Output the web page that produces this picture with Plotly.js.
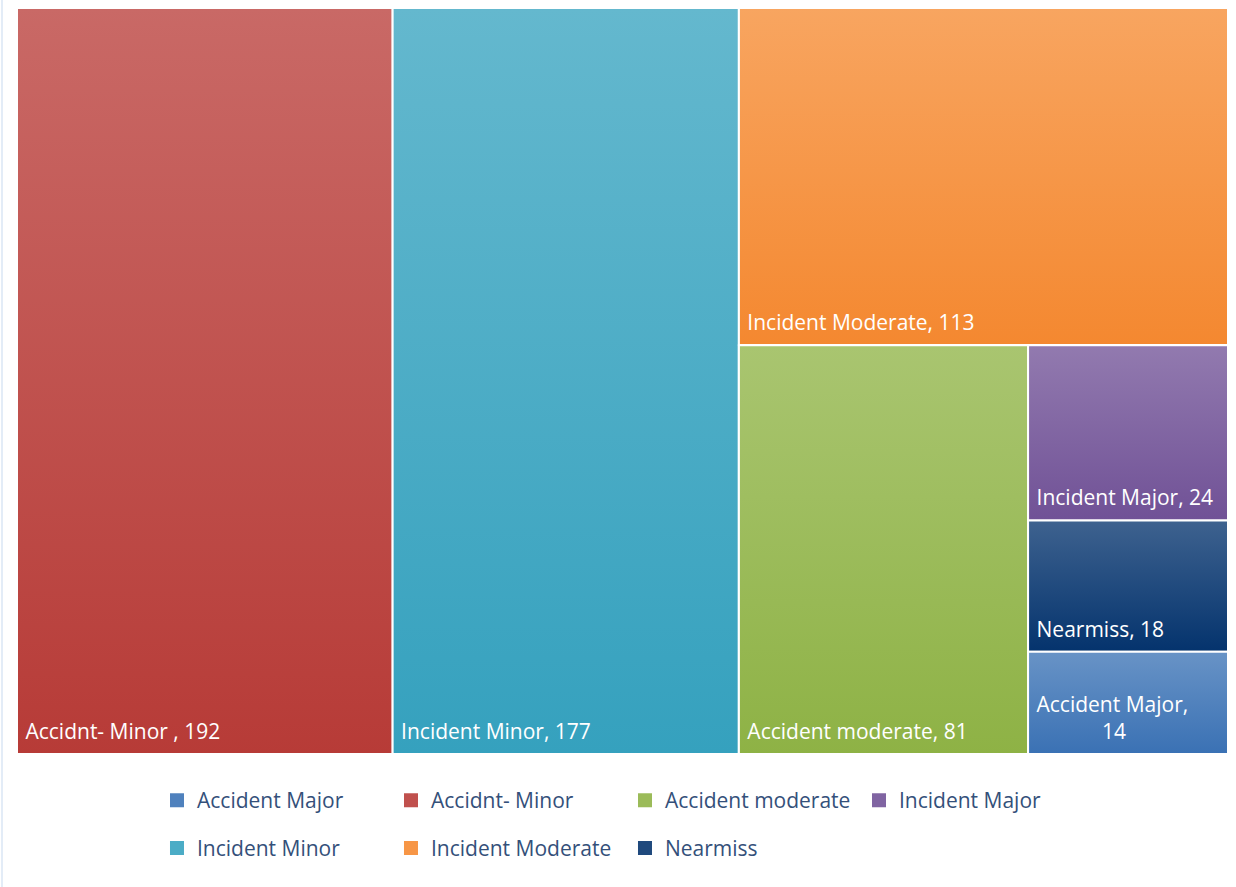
<!DOCTYPE html>
<html>
<head>
<meta charset="utf-8">
<script src="https://cdn.plot.ly/plotly-3.0.1.min.js"></script>
<style>
  html, body { margin: 0; padding: 0; background: #ffffff; }
  #wrap { position: relative; width: 1236px; height: 887px; }
  #chart { width: 1236px; height: 887px; }
  #edge { position: absolute; left: 1px; top: 0; width: 2px; height: 887px; background: #E3ECF7; }
</style>
</head>
<body>
<div id="wrap"><div id="chart"></div><div id="edge"></div></div>
<script>
// ---- data ----
const categories = ["Accidnt- Minor ", "Incident Minor", "Incident Moderate", "Accident moderate", "Incident Major", "Nearmiss", "Accident Major"];
const counts     = [192, 177, 113, 81, 24, 18, 14];
const tileColors = ["#C0504D", "#4BACC6", "#F79646", "#9BBB59", "#8064A2", "#1F497D", "#4F81BD"];
// nesting used only to lay the tiles out as in the reference
const tileParents  = ["all", "all", "g1", "g2", "g3", "g3", "g3"];
const groupIds     = ["all", "g1", "g2", "g3"];
const groupParents = ["", "all", "g1", "g2"];

// legend entries (alphabetical, as in the reference)
const legendNames  = ["Accident Major", "Accidnt- Minor", "Accident moderate", "Incident Major", "Incident Minor", "Incident Moderate", "Nearmiss"];
const legendColors = ["#4F81BD", "#C0504D", "#9BBB59", "#8064A2", "#4BACC6", "#F79646", "#1F497D"];

// ---- build treemap (leaves listed before groups so sibling order is kept) ----
const NB = "\u00A0";
const padL = NB;
const padB = "<span style='font-size:40px'>" + NB + "</span>";
const ids = categories.concat(groupIds);
const labels = categories.concat(groupIds.map(() => ""));
const parents = tileParents.concat(groupParents);
const values = counts.concat(groupIds.map(() => 0));
const colors = tileColors.concat(groupIds.map(() => "#ffffff"));
const templates = categories.map(c =>
  c === "Accident Major"
    ? padL + "%{label},<br>" + NB.repeat(13) + "%{value}" + padB
    : padL + "%{label}, %{value}" + padB
).concat(groupIds.map(() => ""));

const treemap = {
  type: "treemap",
  ids: ids,
  labels: labels,
  parents: parents,
  values: values,
  branchvalues: "remainder",
  sort: false,
  tiling: { packing: "slice-dice", pad: 0 },
  marker: { colors: colors, line: { color: "#ffffff", width: 2 }, pad: { t: 0, l: 0, r: 0, b: 0 }, depthfade: false },
  pathbar: { visible: false },
  textinfo: "none",
  texttemplate: templates,
  textposition: "bottom left",
  textfont: { family: "Open Sans, sans-serif", size: 21, color: "#ffffff" },
  hoverinfo: "label+value",
  domain: { x: [0, 1], y: [0, 1] },
  showlegend: false
};

const legendTraces = legendNames.map((n, i) => ({
  type: "scatter",
  mode: "markers",
  x: [null], y: [null],
  name: n,
  marker: { symbol: "square", size: 14, color: legendColors[i] },
  legend: i < 4 ? "legend" : "legend2",
  showlegend: true,
  hoverinfo: "skip"
}));

const legendCommon = {
  orientation: "h",
  xanchor: "left",
  yanchor: "top",
  entrywidth: 189,
  entrywidthmode: "pixels",
  bgcolor: "rgba(0,0,0,0)",
  font: { family: "Open Sans, sans-serif", size: 21, color: "#34507A" },
  itemclick: false,
  itemdoubleclick: false
};

const layout = {
  width: 1236,
  height: 887,
  margin: { l: 17, r: 8, t: 8, b: 133 },
  paper_bgcolor: "#ffffff",
  plot_bgcolor: "rgba(0,0,0,0)",
  xaxis: { visible: false },
  yaxis: { visible: false },
  showlegend: true,
  legend: Object.assign({}, legendCommon, { x: 0.1156, y: -0.035 }),
  legend2: Object.assign({}, legendCommon, { x: 0.1156, y: -0.099 })
};

// vertical shading of each tile (lighter at the top, deeper at the bottom)
function clamp(v) { return Math.max(0, Math.min(255, Math.round(v))); }
function shadeTiles(gd) {
  const svgNS = "http://www.w3.org/2000/svg";
  const defs = gd.querySelector("svg.main-svg defs");
  const paths = gd.querySelectorAll(".treemaplayer path.surface");
  paths.forEach((p, i) => {
    const f = getComputedStyle(p).fill || "";
    const m = f.match(/rgba?\(([^)]+)\)/);
    if (!m) return;
    const rgb = m[1].split(",").slice(0, 3).map(s => parseFloat(s));
    if (rgb[0] > 250 && rgb[1] > 250 && rgb[2] > 250) return;
    const top = rgb.map(v => clamp(v + (255 - v) * 0.14));
    const bot = rgb.map(v => clamp(v - (255 - v) * 0.11 - 2));
    const g = document.createElementNS(svgNS, "linearGradient");
    g.setAttribute("id", "tileShade" + i);
    g.setAttribute("x1", "0"); g.setAttribute("y1", "0");
    g.setAttribute("x2", "0"); g.setAttribute("y2", "1");
    [[0, top], [1, bot]].forEach(([o, c]) => {
      const s = document.createElementNS(svgNS, "stop");
      s.setAttribute("offset", String(o));
      s.setAttribute("stop-color", "rgb(" + c.join(",") + ")");
      g.appendChild(s);
    });
    defs.appendChild(g);
    p.style.fill = "url(#tileShade" + i + ")";
  });
}

Plotly.newPlot("chart", [treemap].concat(legendTraces), layout, { displayModeBar: false, staticPlot: true })
  .then(gd => shadeTiles(gd));
</script>
</body>
</html>
